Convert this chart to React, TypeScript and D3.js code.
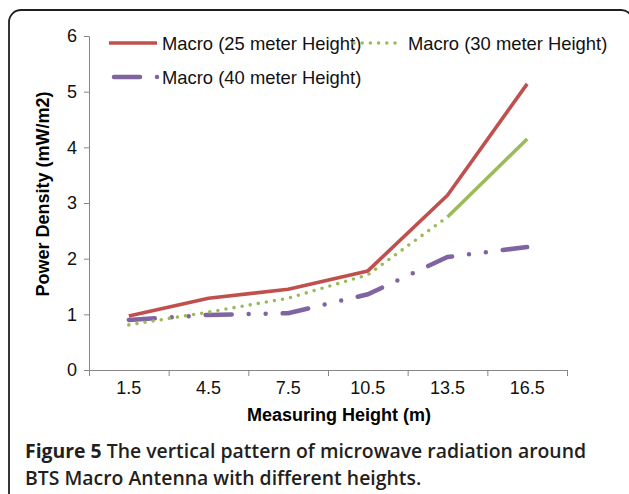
import React, { useEffect, useRef } from "react";
import * as d3 from "d3";

const heights = ["1.5", "4.5", "7.5", "10.5", "13.5", "16.5"];
const macro25 = [0.97, 1.29, 1.45, 1.78, 3.14, 5.14];
const macro30 = [0.81, 1.04, 1.29, 1.71, 2.75, 4.15];
const macro40 = [0.9, 0.99, 1.02, 1.36, 2.03, 2.21];
const yTicks = [0, 1, 2, 3, 4, 5, 6];

const App: React.FC = () => {
	const chartRef = useRef<SVGSVGElement | null>(null);

	useEffect(() => {
		if (!chartRef.current) return;
		const svg = d3.select(chartRef.current);
		const font = "'Liberation Sans', Arial, sans-serif";
		const axisColor = "#878787";

		// figure frame (runs off the right and bottom edge)
		svg.append("rect")
			.attr("x", 9)
			.attr("y", 10)
			.attr("width", 624)
			.attr("height", 500)
			.attr("rx", 12)
			.attr("fill", "none")
			.attr("stroke", "#231f20")
			.attr("stroke-width", 1.8);

		const x = d3.scaleBand().domain(heights).range([89, 567]).padding(0);
		const y = d3.scaleLinear().domain([0, 6]).range([370, 36]);
		const cx = (d: string) => (x(d) || 0) + x.bandwidth() / 2;

		// y axis
		const yAxis = svg
			.append("g")
			.attr("transform", "translate(89,0)")
			.call(
				d3
					.axisLeft(y)
					.tickValues(yTicks)
					.tickFormat(d3.format("d"))
					.tickSize(5)
					.tickPadding(7)
			);
		yAxis.selectAll("path, line").attr("stroke", axisColor);
		yAxis.selectAll("text")
			.attr("font-family", font)
			.attr("font-size", 18)
			.attr("fill", "#111");

		// x axis: labels in the middle, ticks on the band edges
		const xAxis = svg
			.append("g")
			.attr("transform", "translate(0,370)")
			.call(d3.axisBottom(x).tickSize(0).tickPadding(0));
		xAxis.select(".domain").attr("stroke", axisColor);
		xAxis.selectAll("text")
			.attr("font-family", font)
			.attr("font-size", 18)
			.attr("fill", "#111")
			.attr("y", 24)
			.attr("dy", 0);
		const edges = heights.map((h) => x(h) || 0).concat([x.range()[1]]);
		xAxis.selectAll(".edge")
			.data(edges)
			.enter()
			.append("line")
			.attr("class", "edge")
			.attr("x1", (d) => d + 0.5)
			.attr("x2", (d) => d + 0.5)
			.attr("y1", 0)
			.attr("y2", 6)
			.attr("stroke", axisColor);

		// axis titles
		svg.append("text")
			.attr("x", 339)
			.attr("y", 421)
			.attr("text-anchor", "middle")
			.attr("font-family", font)
			.attr("font-size", 18)
			.attr("font-weight", "bold")
			.text("Measuring Height (m)");

		svg.append("text")
			.attr("transform", "translate(49,194) rotate(-90)")
			.attr("text-anchor", "middle")
			.attr("font-family", font)
			.attr("font-size", 18)
			.attr("font-weight", "bold")
			.text("Power Density (mW/m2)");

		const line = d3
			.line<number>()
			.x((_, i) => cx(heights[i]))
			.y((d) => y(d));
		const lineFrom = d3
			.line<number>()
			.x((_, i) => cx(heights[i + 4]))
			.y((d) => y(d));

		const red = "#c0504d";
		const green = "#9bbb59";
		const purple = "#8064a2";
		const dotDash = "26 17 0 17 0 17";
		const dots = "0 8.2";

		svg.append("path")
			.attr("d", line(macro40))
			.attr("fill", "none")
			.attr("stroke", purple)
			.attr("stroke-width", 4.5)
			.attr("stroke-linecap", "round")
			.attr("stroke-dasharray", dotDash);

		svg.append("path")
			.attr("d", line(macro30.slice(0, 5)))
			.attr("fill", "none")
			.attr("stroke", green)
			.attr("stroke-width", 3.6)
			.attr("stroke-linecap", "round")
			.attr("stroke-dasharray", dots);
		svg.append("path")
			.attr("d", lineFrom(macro30.slice(4)))
			.attr("fill", "none")
			.attr("stroke", green)
			.attr("stroke-width", 3.6);

		svg.append("path")
			.attr("d", line(macro25))
			.attr("fill", "none")
			.attr("stroke", red)
			.attr("stroke-width", 3.6)
			.attr("stroke-linejoin", "round");

		// legend
		const legend = [
			{ name: "Macro (25 meter Height)", color: red, x1: 109, x2: 157, tx: 162, ly: 43, dash: null, cap: "butt", w: 3.6 },
			{ name: "Macro (30 meter Height)", color: green, x1: 354, x2: 398, tx: 408, ly: 43, dash: dots, cap: "round", w: 3.6 },
			{ name: "Macro (40 meter Height)", color: purple, x1: 114, x2: 157.5, tx: 162, ly: 77, dash: dotDash, cap: "round", w: 4.5 },
		];
		const lg = svg.selectAll(".legend").data(legend).enter().append("g").attr("class", "legend");
		lg.append("line")
			.attr("x1", (d) => d.x1)
			.attr("x2", (d) => d.x2)
			.attr("y1", (d) => d.ly)
			.attr("y2", (d) => d.ly)
			.attr("stroke", (d) => d.color)
			.attr("stroke-width", (d) => d.w)
			.attr("stroke-linecap", (d) => d.cap)
			.attr("stroke-dasharray", (d) => d.dash);
		lg.append("text")
			.attr("x", (d) => d.tx)
			.attr("y", (d) => d.ly + 6.5)
			.attr("font-family", font)
			.attr("font-size", 18.4)
			.attr("fill", "#111")
			.text((d) => d.name);

		// caption
		const cap = svg
			.append("text")
			.attr("font-family", "'Open Sans', sans-serif")
			.attr("font-size", 19.4)
			.attr("font-weight", 600)
			.attr("fill", "#231f20");
		cap.append("tspan").attr("x", 25).attr("y", 458).attr("font-weight", 700).text("Figure 5");
		cap.append("tspan").text(" The vertical pattern of microwave radiation around");
		cap.append("tspan").attr("x", 25).attr("y", 485).text("BTS Macro Antenna with different heights.");

		return () => {
			svg.selectAll("*").remove();
		};
	}, []);

	return (
		<svg
			ref={chartRef}
			width={629}
			height={494}
			style={{ position: "absolute", left: 0, top: 0, background: "#fff" }}
		/>
	);
};

export default App;
